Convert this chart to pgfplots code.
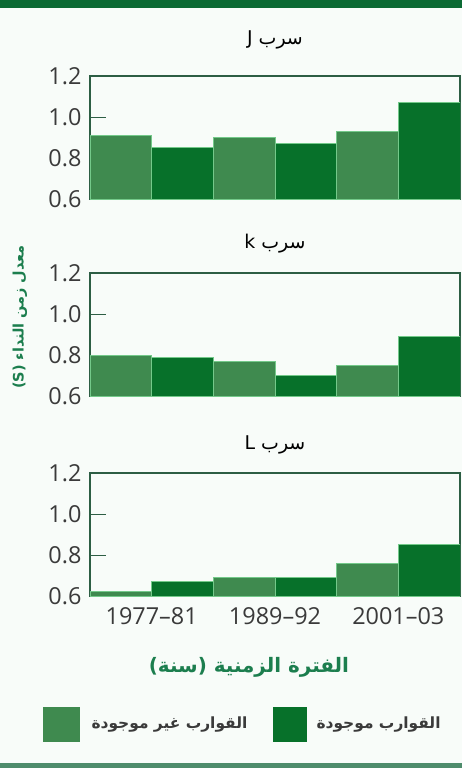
\documentclass[border=0pt]{standalone}
\usepackage{fontspec}
\setmainfont{Open Sans}
\newfontfamily\arabicfont[Script=Arabic]{DejaVu Sans}
\TeXXeTstate=1
\usepackage{pgfplots}
\pgfplotsset{compat=1.18}
\definecolor{absent}{HTML}{3F8A4F}
\definecolor{present}{HTML}{07712A}
\definecolor{sep}{HTML}{74C98A}
\definecolor{frame}{HTML}{2D5E44}
\definecolor{labgreen}{HTML}{1C7E4E}
\definecolor{bgcol}{HTML}{F8FCF9}
\definecolor{topband}{HTML}{0B6A34}
\definecolor{botband}{HTML}{4E8C6C}
\definecolor{ticklab}{HTML}{3A3A3A}

\pgfplotstableread{
x absent present
0 0.91 0.85
1 0.90 0.87
2 0.93 1.07
}\dataJ
\pgfplotstableread{
x absent present
0 0.80 0.79
1 0.77 0.70
2 0.75 0.89
}\dataK
\pgfplotstableread{
x absent present
0 0.62 0.67
1 0.69 0.69
2 0.76 0.85
}\dataL

\pgfplotsset{panel/.style={
  width=370bp, height=123bp, scale only axis,
  anchor=north west,
  ybar=0pt, bar width=0.5,
  xmin=-0.5, xmax=2.5, ymin=0.6, ymax=1.2,
  ytick={0.6,0.8,1.0,1.2},
  tick label style={font=\fontsize{23.5}{25}\selectfont, text=ticklab},
  yticklabel style={xshift=-5bp, /pgf/number format/.cd,fixed,fixed zerofill,precision=1,assume math mode=true},
  xticklabel style={yshift=-8bp},
  xtick={0,1,2}, xticklabels={},
  xtick style={draw=none},
  ytick style={draw=frame, line width=1bp},
  major tick length=16bp, tick align=inside, ytick pos=left,
  axis line style={draw=frame, line width=2bp},
  title style={font=\arabicfont\fontsize{19}{21}\selectfont, anchor=center, at={(0.5,1)}},
  every axis plot/.append style={draw=sep, line width=1bp},
}}

\begin{document}
\begin{tikzpicture}
\path[use as bounding box] (0,0) rectangle (462bp,-768bp);
\fill[bgcol] (0,0) rectangle (462bp,-768bp);
\fill[topband] (0,0) rectangle (462bp,-8bp);
\fill[botband] (0,-763bp) rectangle (462bp,-768bp);

\begin{axis}[panel, at={(90bp,-76bp)}, title={\beginR سرب J\endR}, title style={yshift=30bp}]
\addplot[fill=absent, bar shift=-0.25] table[x=x,y=absent]{\dataJ};
\addplot[fill=present, bar shift=0.25] table[x=x,y=present]{\dataJ};
\end{axis}

\begin{axis}[panel, at={(90bp,-273bp)}, title={\beginR سرب k\endR}, title style={yshift=23bp}]
\addplot[fill=absent, bar shift=-0.25] table[x=x,y=absent]{\dataK};
\addplot[fill=present, bar shift=0.25] table[x=x,y=present]{\dataK};
\end{axis}

\begin{axis}[panel, at={(90bp,-473bp)}, title={\beginR سرب L\endR}, title style={yshift=22bp},
  xticklabels={1977--81,1989--92,2001--03}]
\addplot[fill=absent, bar shift=-0.25] table[x=x,y=absent]{\dataL};
\addplot[fill=present, bar shift=0.25] table[x=x,y=present]{\dataL};
\end{axis}

\node[rotate=90, text=labgreen, font=\arabicfont\bfseries\fontsize{14.5}{16}\selectfont] at (20bp,-317bp) {\beginR معدل زمن النداء \beginL(S)\endL\endR};
\node[text=labgreen, font=\arabicfont\bfseries\fontsize{20}{22}\selectfont] at (249bp,-667bp) {\beginR الفترة الزمنية (سنة)\endR};

\fill[absent] (43bp,-707bp) rectangle (80bp,-742bp);
\node[anchor=west, text=ticklab, font=\arabicfont\bfseries\fontsize{15.5}{17}\selectfont] at (88bp,-725bp) {\beginR القوارب غير موجودة\endR};
\fill[present] (273bp,-707bp) rectangle (307bp,-742bp);
\node[anchor=west, text=ticklab, font=\arabicfont\bfseries\fontsize{15.5}{17}\selectfont] at (313bp,-725bp) {\beginR القوارب موجودة\endR};
\end{tikzpicture}
\end{document}
